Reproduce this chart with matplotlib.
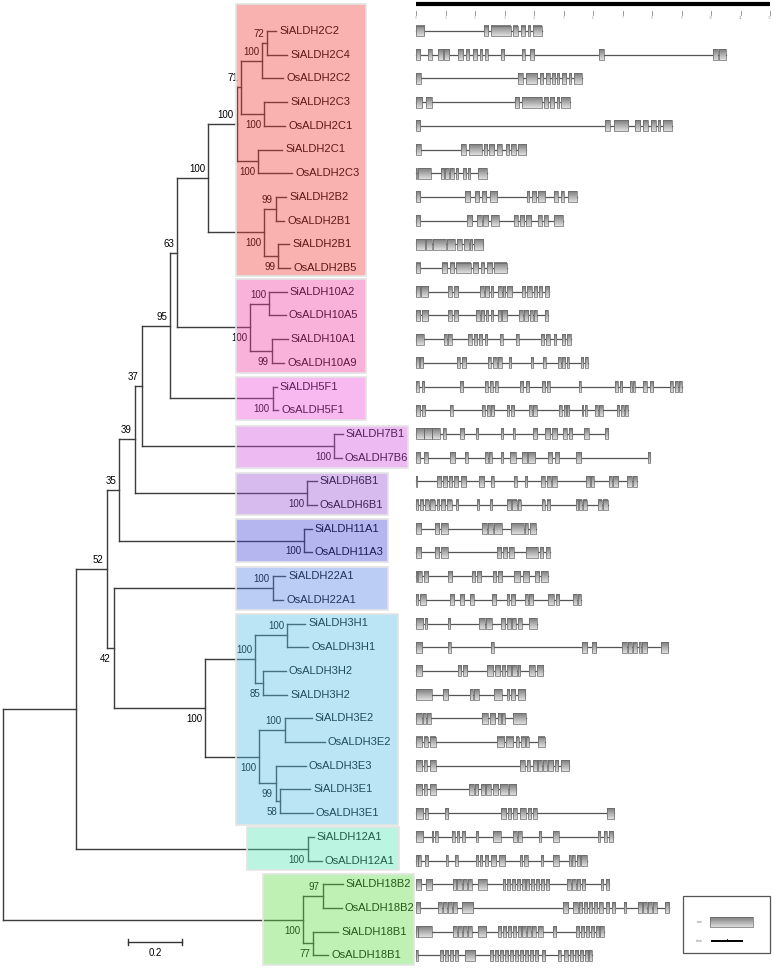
import numpy as np
import matplotlib
matplotlib.use('Agg')
import matplotlib.pyplot as plt
from matplotlib.patches import Rectangle
from matplotlib.collections import LineCollection

plt.rcParams['font.family'] = ['Liberation Sans', 'DejaVu Sans']

# NJ tree: leaf = (name, branch length), node = (bootstrap, branch length, children)
tree = (None, 0.0, [
    (None, 0.268, [
        (52, 0.115, [
            (35, 0.046, [
                (39, 0.059, [
                    (37, 0.025, [
                        (95, 0.105, [
                            (63, 0.025, [
                                (100, 0.116, [
                                    (100, 0.106, [
                                        (71, 0.016, [
                                            (100, 0.078, [
                                                (72, 0.017, [('SiALDH2C2', 0.034), ('SiALDH2C4', 0.075)]),
                                                ('OsALDH2C2', 0.078)]),
                                            (100, 0.085, [('SiALDH2C3', 0.085), ('OsALDH2C1', 0.078)])]),
                                        (100, 0.079, [('SiALDH2C1', 0.089), ('OsALDH2C3', 0.126)])]),
                                    (100, 0.207, [
                                        (99, 0.044, [('SiALDH2B2', 0.037), ('OsALDH2B1', 0.030)]),
                                        (99, 0.052, [('SiALDH2B1', 0.041), ('OsALDH2B5', 0.044)])])]),
                                (100, 0.271, [
                                    (100, 0.070, [('SiALDH10A2', 0.066), ('OsALDH10A5', 0.063)]),
                                    (99, 0.080, [('SiALDH10A1', 0.060), ('OsALDH10A9', 0.046)])])]),
                            (100, 0.380, [('SiALDH5F1', 0.015), ('OsALDH5F1', 0.020)])]),
                        (100, 0.712, [('SiALDH7B1', 0.032), ('OsALDH7B6', 0.029)])]),
                    (100, 0.637, [('SiALDH6B1', 0.036), ('OsALDH6B1', 0.036)])]),
                (100, 0.685, [('SiALDH11A1', 0.029), ('OsALDH11A3', 0.029)])]),
            (42, 0.027, [
                (100, 0.588, [('SiALDH22A1', 0.046), ('OsALDH22A1', 0.038)]),
                (100, 0.337, [
                    (100, 0.185, [
                        (100, 0.119, [('SiALDH3H1', 0.067), ('OsALDH3H1', 0.078)]),
                        (85, 0.030, [('OsALDH3H2', 0.085), ('SiALDH3H2', 0.089)])]),
                    (100, 0.200, [
                        (100, 0.096, [('SiALDH3E2', 0.100), ('OsALDH3E2', 0.148)]),
                        (99, 0.063, [('OsALDH3E3', 0.111),
                                     (58, 0.015, [('SiALDH3E1', 0.111), ('OsALDH3E1', 0.122)])])])])])]),
        (100, 0.860, [('SiALDH12A1', 0.022), ('OsALDH12A1', 0.051)])]),
    (100, 1.110, [
        (97, 0.073, [('SiALDH18B2', 0.075), ('OsALDH18B2', 0.070)]),
        (77, 0.037, [('SiALDH18B1', 0.093), ('OsALDH18B1', 0.056)])])])

# bootstrap label side in pre-order: a = above node, b = below
boot_side = 'aaaaaaaaaaabbbabbabbbbbbabaabbabbbbab'

# exon (start, end) in kb, one list per leaf (top to bottom)
exons = [
    [(0, .28), (2.29, 2.45), (2.54, 3.21), (3.30, 3.45), (3.55, 3.69), (3.80, 3.88), (3.98, 4.26)],
    [(0, .14), (.40, .53), (.76, .93), (.95, 1.13), (1.42, 1.59), (1.68, 1.80), (1.92, 2.07), (2.17, 2.25),
     (2.33, 2.43), (2.88, 2.99), (3.60, 3.69), (3.85, 4.01), (6.20, 6.36), (10.07, 10.23), (10.27, 10.50)],
    [(0, .16), (3.47, 3.62), (3.72, 4.11), (4.20, 4.32), (4.40, 4.53), (4.60, 4.71), (4.77, 4.86), (4.96, 5.10),
     (5.17, 5.25), (5.37, 5.64)],
    [(0, .21), (.35, .55), (3.36, 3.50), (3.60, 4.26), (4.34, 4.49), (4.54, 4.69), (4.78, 4.85), (4.93, 5.21)],
    [(0, .14), (6.41, 6.57), (6.72, 7.20), (7.42, 7.59), (7.71, 7.85), (7.97, 8.12), (8.21, 8.28), (8.38, 8.67)],
    [(0, .16), (1.53, 1.68), (1.80, 2.23), (2.29, 2.41), (2.47, 2.66), (2.75, 2.90), (3.04, 3.15), (3.22, 3.38),
     (3.45, 3.74)],
    [(0, .03), (.08, .51), (.84, .95), (.99, 1.11), (1.15, 1.28), (1.36, 1.44), (1.58, 1.69), (1.76, 1.84),
     (2.11, 2.40)],
    [(0, .14), (1.66, 1.83), (2.00, 2.14), (2.23, 2.38), (2.50, 2.75), (3.75, 3.84), (3.92, 4.06), (4.12, 4.37),
     (4.69, 4.82), (4.92, 5.01), (5.16, 5.45)],
    [(0, .14), (1.72, 1.89), (2.08, 2.23), (2.28, 2.45), (2.54, 2.81), (3.32, 3.45), (3.51, 3.65), (3.73, 3.90),
     (4.15, 4.28), (4.35, 4.46), (4.69, 4.97)],
    [(0, .31), (.35, .53), (.59, 1.01), (1.06, 1.32), (1.40, 1.55), (1.63, 1.79), (1.83, 1.91), (1.97, 2.28)],
    [(0, .14), (.87, 1.06), (1.14, 1.29), (1.37, 1.85), (1.92, 2.09), (2.19, 2.31), (2.40, 2.59), (2.63, 3.07)],
    [(0, .14), (.18, .42), (1.10, 1.23), (1.28, 1.44), (2.17, 2.29), (2.34, 2.49), (2.54, 2.61), (2.79, 2.90),
     (2.94, 3.02), (3.07, 3.24), (3.58, 3.69), (3.77, 3.92), (3.99, 4.11), (4.17, 4.28), (4.37, 4.51)],
    [(0, .14), (.19, .40), (1.10, 1.23), (1.28, 1.44), (2.03, 2.16), (2.20, 2.32), (2.37, 2.45), (2.53, 2.60),
     (2.77, 2.88), (2.93, 3.10), (3.50, 3.63), (3.67, 3.81), (3.88, 3.96), (4.01, 4.09), (4.37, 4.46)],
    [(0, .27), (.95, 1.05), (1.10, 1.22), (1.77, 1.89), (1.95, 2.07), (2.14, 2.25), (2.34, 2.42), (2.86, 2.94),
     (3.39, 3.48), (4.24, 4.35), (4.40, 4.53), (4.67, 4.75), (4.94, 5.05), (5.13, 5.25)],
    [(0, .11), (.14, .25), (1.40, 1.49), (1.55, 1.69), (2.45, 2.54), (2.62, 2.73), (2.79, 2.90), (3.15, 3.22),
     (3.89, 3.96), (4.32, 4.40), (4.82, 4.90), (4.95, 5.06), (5.13, 5.19), (5.59, 5.67), (5.74, 5.84)],
    [(0, .10), (.19, .28), (1.49, 1.60), (2.34, 2.43), (2.51, 2.60), (2.68, 2.77), (3.53, 3.64), (3.72, 3.83),
     (4.26, 4.37), (4.43, 4.53), (5.53, 5.59), (6.75, 6.84), (6.90, 6.99), (7.26, 7.31), (7.37, 7.42),
     (7.71, 7.82), (7.93, 8.05), (8.61, 8.70), (8.78, 8.87), (8.93, 9.01)],
    [(0, .14), (.19, .31), (1.16, 1.25), (2.25, 2.34), (2.40, 2.50), (2.54, 2.66), (3.07, 3.16), (3.22, 3.33),
     (3.83, 3.92), (3.98, 4.09), (4.85, 4.94), (5.00, 5.09), (5.13, 5.20), (5.62, 5.67), (5.73, 5.79),
     (6.07, 6.16), (6.21, 6.33), (6.80, 6.89), (6.95, 7.04), (7.10, 7.20)],
    [(0, .27), (.28, .53), (.55, .81), (.93, 1.03), (1.49, 1.64), (2.03, 2.11), (2.88, 2.95), (3.30, 3.36),
     (3.95, 4.09), (4.37, 4.54), (4.60, 4.77), (4.99, 5.11), (5.17, 5.28), (5.71, 5.85), (6.41, 6.52)],
    [(0, .14), (.27, .40), (1.15, 1.32), (1.66, 1.75), (2.34, 2.43), (2.47, 2.56), (2.88, 2.95), (3.19, 3.39),
     (3.58, 3.75), (3.79, 4.03), (4.46, 4.62), (4.71, 4.85), (5.41, 5.58), (7.85, 7.93)],
    [(0, .05), (.70, .85), (.90, 1.04), (1.12, 1.23), (1.30, 1.44), (1.53, 1.71), (2.14, 2.31), (2.55, 2.63),
     (3.33, 3.42), (3.69, 3.76), (4.24, 4.37), (4.43, 4.56), (4.62, 4.77), (5.76, 5.90), (5.92, 6.02),
     (6.54, 6.63), (6.69, 6.86), (7.16, 7.31), (7.37, 7.49)],
    [(0, .08), (.14, .25), (.31, .44), (.49, .64), (.70, .78), (.84, .98), (1.06, 1.21), (1.36, 1.44),
     (2.06, 2.15), (2.51, 2.59), (3.07, 3.22), (3.27, 3.42), (3.47, 3.56), (4.28, 4.37), (4.43, 4.55),
     (5.41, 5.50), (5.54, 5.62), (5.67, 5.80), (6.16, 6.29), (6.35, 6.50)],
    [(0, .17), (.64, .78), (.84, 1.07), (2.25, 2.41), (2.45, 2.61), (2.66, 2.90), (3.22, 3.65), (3.71, 3.81),
     (3.88, 4.06)],
    [(0, .17), (.64, .78), (.85, 1.07), (2.73, 2.88), (2.94, 3.10), (3.15, 3.31), (3.72, 4.12), (4.20, 4.32),
     (4.40, 4.53)],
    [(0, .05), (.08, .21), (.27, .42), (1.07, 1.23), (1.89, 2.00), (2.06, 2.20), (2.60, 2.71), (2.77, 2.93),
     (3.33, 3.54), (3.62, 3.83), (4.03, 4.17), (4.24, 4.46)],
    [(0, .08), (.15, .33), (1.15, 1.30), (1.49, 1.64), (1.83, 1.96), (2.57, 2.71), (3.07, 3.16), (3.22, 3.36),
     (3.69, 3.79), (3.84, 3.98), (4.49, 4.69), (4.73, 4.85), (5.33, 5.45), (5.48, 5.58)],
    [(0, .25), (.31, .38), (1.07, 1.16), (2.14, 2.34), (2.38, 2.56), (2.88, 3.02), (3.07, 3.22), (3.27, 3.40),
     (3.45, 3.58), (3.82, 4.09)],
    [(0, .21), (1.10, 1.18), (2.54, 2.63), (5.64, 5.81), (5.95, 6.10), (6.99, 7.14), (7.18, 7.31), (7.37, 7.48),
     (7.57, 7.63), (7.66, 7.84), (8.31, 8.55)],
    [(0, .21), (1.41, 1.53), (1.58, 1.72), (2.40, 2.62), (2.68, 2.85), (2.90, 3.02), (3.07, 3.22), (3.27, 3.41),
     (3.47, 3.54), (3.83, 4.03), (4.09, 4.32)],
    [(0, .53), (.90, 1.10), (1.83, 1.92), (1.97, 2.12), (2.66, 2.91), (3.07, 3.15), (3.22, 3.36), (3.45, 3.69)],
    [(0, .19), (.25, .33), (.38, .51), (2.23, 2.43), (2.52, 2.69), (2.77, 2.88), (2.92, 3.02), (3.30, 3.72)],
    [(0, .21), (.28, .40), (.47, .67), (2.73, 2.97), (3.05, 3.30), (3.39, 3.49), (3.55, 3.69), (3.73, 3.83),
     (4.15, 4.37)],
    [(0, .21), (.28, .38), (.47, .67), (3.53, 3.69), (3.77, 3.86), (3.95, 4.09), (4.15, 4.26), (4.31, 4.43),
     (4.49, 4.66), (4.71, 4.82), (4.92, 5.20)],
    [(0, .21), (.28, .37), (.47, .67), (1.80, 1.96), (2.00, 2.11), (2.20, 2.34), (2.38, 2.54), (2.60, 2.79),
     (2.85, 3.11), (3.15, 3.40)],
    [(0, .25), (.31, .40), (.98, 1.10), (2.88, 3.05), (3.11, 3.22), (3.30, 3.41), (3.53, 3.72), (3.79, 3.90),
     (3.98, 4.09), (6.46, 6.72)],
    [(0, .25), (.53, .59), (.64, .73), (1.23, 1.32), (1.38, 1.46), (1.55, 1.66), (2.03, 2.11), (2.62, 2.88),
     (3.30, 3.41), (3.47, 3.60), (4.17, 4.24), (4.66, 4.85), (6.16, 6.24), (6.38, 6.46), (6.54, 6.69)],
    [(0, .06), (.08, .17), (.31, .42), (1.01, 1.07), (1.32, 1.41), (2.02, 2.09), (2.17, 2.25), (2.34, 2.45),
     (2.54, 2.71), (2.80, 3.03), (3.53, 3.60), (3.67, 3.79), (4.24, 4.31), (4.66, 4.85), (5.18, 5.24),
     (5.30, 5.39), (5.45, 5.56), (5.59, 5.79)],
    [(0, .17), (.33, .55), (1.24, 1.36), (1.40, 1.55), (1.60, 1.72), (1.77, 1.89), (2.11, 2.40), (2.94, 3.02),
     (3.07, 3.19), (3.24, 3.36), (3.41, 3.53), (3.58, 3.69), (3.73, 3.84), (3.90, 4.01), (4.07, 4.18),
     (4.24, 4.35), (4.40, 4.51), (5.13, 5.24), (5.28, 5.41), (5.45, 5.56), (5.62, 5.73), (6.27, 6.35),
     (6.43, 6.54)],
    [(0, .14), (.76, .87), (.93, 1.04), (1.10, 1.21), (1.27, 1.38), (1.55, 1.94), (4.99, 5.16), (5.33, 5.48),
     (5.53, 5.64), (5.69, 5.81), (5.86, 5.98), (6.03, 6.15), (6.20, 6.33), (6.43, 6.54), (6.63, 6.75),
     (7.04, 7.12), (7.51, 7.65), (7.71, 7.82), (7.88, 7.99), (8.05, 8.16), (8.44, 8.59)],
    [(0, .06), (.08, .53), (1.27, 1.38), (1.44, 1.55), (1.60, 1.72), (1.77, 1.89), (2.09, 2.37), (2.77, 2.88),
     (2.94, 3.05), (3.11, 3.22), (3.28, 3.39), (3.45, 3.56), (3.60, 3.72), (3.77, 3.89), (3.94, 4.06),
     (4.15, 4.29), (4.63, 4.74), (5.41, 5.53), (5.58, 5.70), (5.75, 5.86), (5.92, 6.03), (6.09, 6.20),
     (6.25, 6.37)],
    [(0, .06), (.81, .93), (.98, 1.10), (1.15, 1.27), (1.32, 1.44), (1.66, 2.00), (2.51, 2.62), (2.68, 2.79),
     (2.85, 2.96), (3.02, 3.13), (3.19, 3.30), (3.36, 3.47), (3.53, 3.64), (3.70, 3.81), (3.86, 3.98),
     (4.03, 4.15), (4.26, 4.37), (4.83, 4.90), (5.03, 5.16), (5.22, 5.33), (5.39, 5.50), (5.56, 5.67),
     (5.73, 5.84), (5.88, 5.96)],
]

# highlighted subfamilies: first leaf, last leaf
clades = [('SiALDH2C2', 'OsALDH2B5'), ('SiALDH10A2', 'OsALDH10A9'), ('SiALDH5F1', 'OsALDH5F1'),
          ('SiALDH7B1', 'OsALDH7B6'), ('SiALDH6B1', 'OsALDH6B1'), ('SiALDH11A1', 'OsALDH11A3'),
          ('SiALDH22A1', 'OsALDH22A1'), ('SiALDH3H1', 'OsALDH3E1'), ('SiALDH12A1', 'OsALDH12A1'),
          ('SiALDH18B2', 'OsALDH18B1')]
clade_colors = ['#f03f37', '#f043a7', '#eb50d9', '#d255de', '#9b57d9', '#4848d9', '#5584e6',
                '#55c0e6', '#55e6b4', '#61de48']
# layout (pixels) of the boxes
box_px = [(236, 366), (236, 366), (236, 366), (236, 408), (236, 388), (236, 388), (236, 388),
          (236, 398), (247, 399), (263, 414)]
pad_top = [1.13, 0.54, 0.40, 0.35, 0.35, 0.40, 0.38, 0.42, 0.42, 0.44]
pad_bot = [0.34, 0.42, 0.42, 0.43, 0.42, 0.42, 0.43, 0.50, 0.39, 0.42]

W, H = 775, 969
X0, XS = 3.3, 270.0     # root position px, px per unit of branch length
G0, GS = 416.0, 29.5    # gene start px, px per kb
R0, RS = 31.0, 23.7     # first row px, px per row

fig = plt.figure(figsize=(W / 100, H / 100), dpi=100)
tax = fig.add_axes([0, 0, 1, 1])
gax = fig.add_axes([0, 0, 1, 1])
gax.patch.set_alpha(0)

# ---- tree layout
hsegs, vsegs, tips, boots = [], [], [], []
row = [0]


def place(node, xp):
    if len(node) == 2:
        name, bl = node
        x = xp + bl
        tips.append((name, x, row[0]))
        row[0] += 1
        return x, tips[-1][2]
    boot, bl, kids = node
    x = xp + bl
    idx = len(boots)
    boots.append(None)
    pts = [place(k, x) for k in kids]
    for cx, cy in pts:
        hsegs.append([(x, cy), (cx, cy)])
    vsegs.append([(x, pts[0][1]), (x, pts[-1][1])])
    y = (pts[0][1] + pts[-1][1]) / 2.
    boots[idx] = (boot, x, y)
    return x, y


place(tree, 0.0)
boots = [b for b in boots if b[0] is not None]
names = [t[0] for t in tips]

tax.add_collection(LineCollection(hsegs + vsegs, colors='#3c3c3c', linewidths=1.0, capstyle='projecting', zorder=2))
dx = 3. / XS
for name, x, y in tips:
    tax.text(x + dx, y, name, fontsize=8, ha='left', va='center', color='black', zorder=3)
for (b, x, y), s in zip(boots, boot_side):
    yy = y - 0.38 if s == 'a' else y + 0.46
    tax.text(x - dx, yy, str(b), fontsize=7, ha='right', va='center', color='black', zorder=3)

# subfamily boxes (transparent overlay tints lines and labels)
for (a, b), c, (l, r), pt, pb in zip(clades, clade_colors, box_px, pad_top, pad_bot):
    i0, i1 = names.index(a), names.index(b)
    xl, xr = (l - X0) / XS, (r - X0) / XS
    tax.add_patch(Rectangle((xl, i0 - pt), xr - xl, i1 - i0 + pt + pb, fc=c, ec='none', alpha=0.4, zorder=5))
    tax.add_patch(Rectangle((xl, i0 - pt), xr - xl, i1 - i0 + pt + pb, fc='none', ec='#e4e4e4', lw=1.2, zorder=6))

# scale bar
sb0 = (128 - X0) / XS
tax.plot([sb0, sb0 + 0.2], [38.44, 38.44], color='#333333', lw=1.0)
tax.plot([sb0, sb0], [38.3, 38.58], color='#333333', lw=1.0)
tax.plot([sb0 + 0.2, sb0 + 0.2], [38.3, 38.58], color='#333333', lw=1.0)
tax.text(sb0 + 0.1, 38.92, '0.2', fontsize=7, ha='center', va='center')

tax.set_xlim(-X0 / XS, (W - X0) / XS)
tax.set_ylim((H - R0) / RS, -R0 / RS)
tax.axis('off')

# ---- gene structures
grad = np.linspace(0.5, 0.86, 16).reshape(-1, 1)
h = 0.46
for i, ex in enumerate(exons):
    gax.plot([ex[0][0], ex[-1][1]], [i, i], color='#555555', lw=0.9, zorder=2)
    for s, e in ex:
        gax.imshow(grad, cmap='gray', vmin=0, vmax=1, extent=(s, e, i + h / 2, i - h / 2),
                   aspect='auto', interpolation='bilinear', zorder=3)
        gax.add_patch(Rectangle((s, i - h / 2), e - s, h, fill=False, ec='#666666', lw=0.5, zorder=4))

# kb ruler
kb_ticks = list(range(13))
gax.plot([0, 12], [-1.13, -1.13], color='black', lw=3, solid_capstyle='butt')
for k in kb_ticks:
    gax.plot([k, k], [-0.84, -0.68], color='#888888', lw=0.6)
    gax.text(k, -0.56, str(k), fontsize=2.5, ha='center', va='center', color='#aaaaaa')

# legend box
gax.add_patch(Rectangle((9.05, 36.5), 2.95, 2.4, fill=False, ec='#555555', lw=0.9))
gax.imshow(grad, cmap='gray', vmin=0, vmax=1, extent=(9.97, 11.42, 37.8, 37.38),
           aspect='auto', interpolation='bilinear', zorder=3)
gax.add_patch(Rectangle((9.97, 37.38), 1.45, 0.42, fill=False, ec='#666666', lw=0.5, zorder=4))
gax.plot([10.03, 11.05], [38.4, 38.4], color='black', lw=1.4)
gax.plot([10.55, 10.55], [38.3, 38.4], color='black', lw=0.6)
gax.text(9.62, 37.6, 'exon', fontsize=2, ha='center', va='center', color='#777777')
gax.text(9.62, 38.4, 'intron', fontsize=2, ha='center', va='center', color='#777777')

gax.set_xlim(-G0 / GS, (W - G0) / GS)
gax.set_ylim((H - R0) / RS, -R0 / RS)
gax.axis('off')

plt.savefig('out.png', dpi=100)
